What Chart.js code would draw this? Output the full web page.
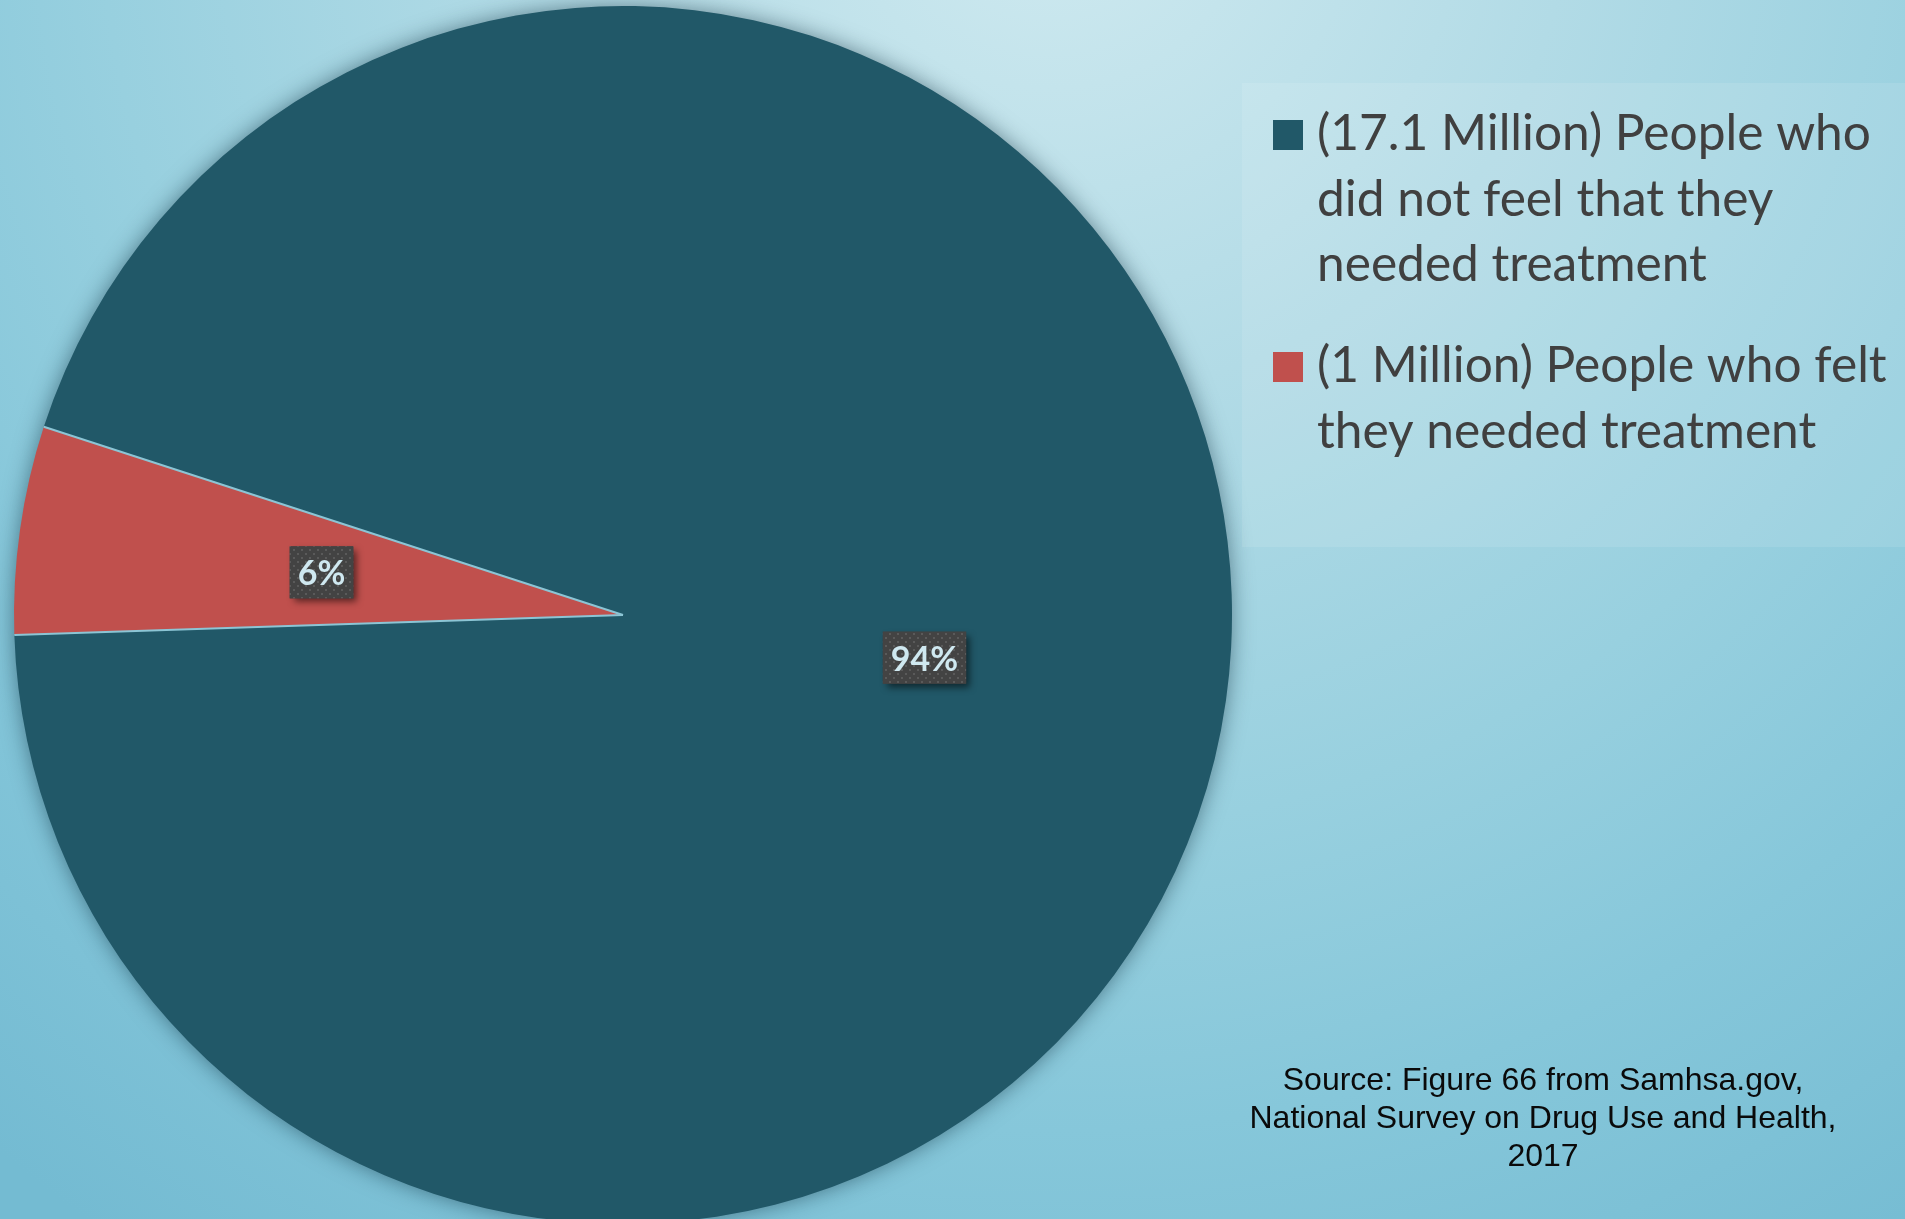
<!DOCTYPE html>
<html>
<head>
<meta charset="utf-8">
<script src="https://cdn.jsdelivr.net/npm/chart.js@4.4.1/dist/chart.umd.min.js"></script>
<style>
  html, body { margin: 0; padding: 0; width: 1905px; height: 1219px; overflow: hidden; }
  body {
    background: radial-gradient(circle at 1050px -120px, #d0eaf0 0px, #b2dbe6 520px, #98d0df 950px, #86c7da 1250px, #74bbd2 1650px);
    position: relative;
  }
  #panel { position: absolute; left: 1242px; top: 83px; width: 663px; height: 464px; background: rgba(255,255,255,0.10); }
  #wrap { position: absolute; left: 0; top: 0; width: 1905px; height: 1235px; }
  #source {
    position: absolute; left: 1243px; width: 600px; top: 1060px;
    font-family: "Liberation Sans", Arial, sans-serif; font-size: 32px; line-height: 38px;
    color: #0a0a0a; text-align: center;
  }
</style>
</head>
<body>
<div id="panel"></div>
<div id="wrap"><canvas id="c" width="1905" height="1235"></canvas></div>
<div id="source">Source: Figure 66 from Samhsa.gov,<br>National Survey on Drug Use and Health,<br>2017</div>
<script>
// ---- data ----
const categories = [
  ['(17.1 Million) People who', 'did not feel that they', 'needed treatment'],
  ['(1 Million) People who felt', 'they needed treatment']
];
const valuesMillions = [17.1, 1];
const sliceColors = ['#215868', '#c0504d'];

const total = valuesMillions.reduce((a, b) => a + b, 0);
const percentLabels = valuesMillions.map(v => Math.round(v / total * 100) + '%');

// dotted pattern for data label boxes
function makePattern(ctx) {
  const p = document.createElement('canvas');
  p.width = 8; p.height = 8;
  const g = p.getContext('2d');
  g.fillStyle = '#434343'; g.fillRect(0, 0, 8, 8);
  g.fillStyle = '#5a5a5a';
  g.fillRect(1, 1, 2, 2);
  g.fillRect(5, 5, 2, 2);
  return ctx.createPattern(p, 'repeat');
}

const pieShadow = {
  id: 'pieShadow',
  beforeDatasetsDraw(chart) {
    const meta = chart.getDatasetMeta(0);
    if (!meta.data.length) return;
    const a = meta.data[0];
    const ctx = chart.ctx;
    ctx.save();
    ctx.shadowColor = 'rgba(10,40,55,0.55)';
    ctx.shadowBlur = 22;
    ctx.fillStyle = '#215868';
    ctx.beginPath();
    ctx.arc(a.x, a.y, a.outerRadius - 1, 0, Math.PI * 2);
    ctx.fill();
    ctx.restore();
  },
  afterDatasetsDraw(chart) {
    const meta = chart.getDatasetMeta(0);
    const ctx = chart.ctx;
    // separators between slices
    ctx.save();
    ctx.strokeStyle = '#8cc5d5';
    ctx.lineWidth = 2;
    meta.data.forEach(a => {
      ctx.beginPath();
      ctx.moveTo(a.x, a.y);
      ctx.lineTo(a.x + Math.cos(a.startAngle) * a.outerRadius, a.y + Math.sin(a.startAngle) * a.outerRadius);
      ctx.stroke();
    });
    ctx.restore();

    // data label boxes
    const pattern = makePattern(ctx);
    ctx.save();
    ctx.font = 'bold 34px Lato, "Open Sans", sans-serif';
    ctx.textAlign = 'center';
    ctx.textBaseline = 'middle';
    meta.data.forEach((a, i) => {
      const pos = a.tooltipPosition();
      const txt = percentLabels[i];
      const w = ctx.measureText(txt).width + 16;
      const h = 52;
      const x = pos.x - w / 2, y = pos.y - h / 2;
      ctx.save();
      ctx.shadowColor = 'rgba(0,0,0,0.55)';
      ctx.shadowBlur = 7;
      ctx.shadowOffsetX = 4;
      ctx.shadowOffsetY = 4;
      ctx.fillStyle = '#434343';
      ctx.fillRect(x, y, w, h);
      ctx.restore();
      ctx.fillStyle = pattern;
      ctx.fillRect(x, y, w, h);
      ctx.fillStyle = '#cfe8f0';
      ctx.fillText(txt, pos.x, pos.y + 2);
    });
    ctx.restore();

    // legend
    ctx.save();
    const base = 54;
    ctx.font = base + 'px Lato, "Open Sans", sans-serif';
    const mw = ctx.measureText(categories[0][0]).width;
    const fs = Math.min(54, base * 554 / mw);
    ctx.font = fs + 'px Lato, "Open Sans", sans-serif';
    ctx.textAlign = 'left';
    ctx.textBaseline = 'alphabetic';
    const startBaselines = [150, 382];
    categories.forEach((lines, i) => {
      const b0 = startBaselines[i];
      ctx.fillStyle = sliceColors[i];
      ctx.fillRect(1273, b0 - 30, 30, 30);
      ctx.fillStyle = '#404040';
      lines.forEach((ln, j) => ctx.fillText(ln, 1317, b0 + j * 65.5));
    });
    ctx.restore();
  }
};

new Chart(document.getElementById('c'), {
  type: 'pie',
  data: {
    labels: categories,
    datasets: [{
      data: valuesMillions,
      backgroundColor: sliceColors,
      borderWidth: 0,
      hoverOffset: 0,
      offset: 0
    }]
  },
  options: {
    responsive: false,
    devicePixelRatio: 1,
    animation: false,
    events: [],
    rotation: 288,
    layout: { padding: { left: 14, right: 673, top: 6, bottom: 11 } },
    plugins: {
      legend: { display: false },
      tooltip: { enabled: false },
      title: { display: false }
    }
  },
  plugins: [pieShadow]
});
</script>
</body>
</html>
